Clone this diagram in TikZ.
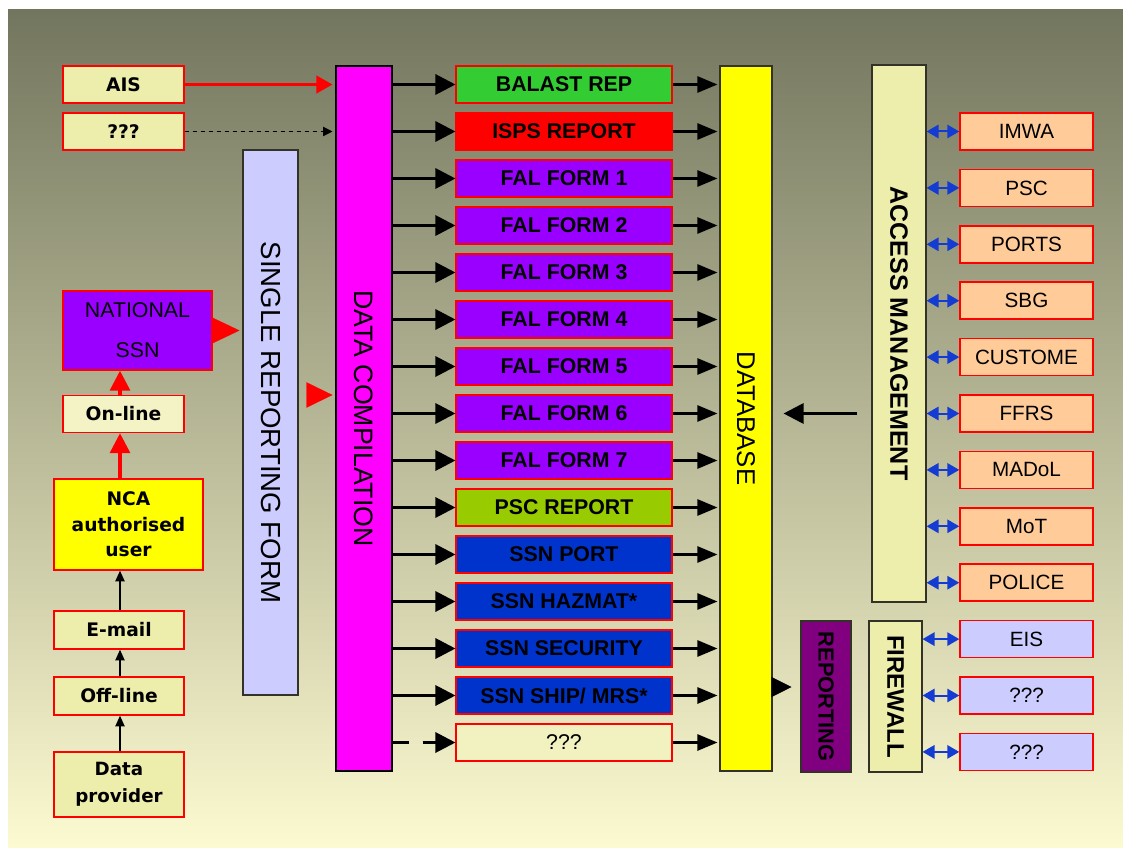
\documentclass[tikz,border=0pt]{standalone}
\usepackage{fontspec}
\setmainfont{Liberation Sans}
\newfontfamily\leftfont{DejaVu Sans}
\usetikzlibrary{arrows.meta}

\definecolor{bgtop}{RGB}{115,118,94}
\definecolor{bgmid}{RGB}{192,192,146}
\definecolor{bgbot}{RGB}{252,250,208}
\definecolor{paleyel}{RGB}{238,238,172}
\definecolor{lavend}{RGB}{204,204,255}
\definecolor{violet}{RGB}{153,0,255}
\definecolor{pinkmag}{RGB}{255,0,255}
\definecolor{dbyellow}{RGB}{255,255,0}
\definecolor{balgreen}{RGB}{51,204,51}
\definecolor{pscgreen}{RGB}{153,204,0}
\definecolor{ssnblue}{RGB}{0,51,204}
\definecolor{repurple}{RGB}{128,0,128}
\definecolor{salmon}{RGB}{255,204,153}
\definecolor{linkblue}{RGB}{20,60,210}
\definecolor{frame}{RGB}{50,50,40}

\begin{document}
\begin{tikzpicture}[x=0.75pt,y=0.75pt,yscale=-1,xscale=1,
  every node/.style={inner sep=0pt, align=center},
  srcbox/.style={draw=red, line width=1.1pt, fill=paleyel, minimum width=90.75pt, minimum height=27.75pt, font=\leftfont\bfseries\fontsize{14}{19}\selectfont},
  formbox/.style={draw=red, line width=0.8pt, minimum width=162pt, minimum height=27.75pt, font=\bfseries\fontsize{16}{18}\selectfont},
  userbox/.style={draw=red, line width=1.1pt, minimum width=99.75pt, minimum height=27.75pt, font=\fontsize{15.5}{18}\selectfont},
  bar/.style={draw=frame, line width=0.8pt},
  vtext/.style={rotate=-90, font=\fontsize{20}{22}\selectfont},
  feed/.style={line width=2.25pt, -{Triangle[length=15pt,width=15pt]}},
  store/.style={line width=1.9pt, -{Triangle[length=15pt,width=12pt]}, shorten >=1.5pt},
  link/.style={linkblue, line width=1.5pt, {Triangle[length=9pt,width=10pt]}-{Triangle[length=9pt,width=10pt]}},
  upred/.style={red, line width=2.5pt, -{Triangle[length=15pt,width=15pt]}},
  upblack/.style={line width=0.9pt, -{Triangle[length=8pt,width=7pt]}},
  redhead/.style={red, line width=0.1pt}
]

% background
\useasboundingbox (0,0) rectangle (1123,848);
\fill[top color=bgtop, middle color=bgmid, bottom color=bgbot] (8,10) rectangle (1123,848);

% left column
\node (ais) at (123.5,84.5) [srcbox] {AIS};
\node (qin) at (123.5,131.5) [srcbox] {???};
\node (nssn) at (137.5,330.5) [draw=red, line width=1.1pt, fill=violet, minimum width=111.75pt, minimum height=59.25pt, font=\fontsize{16}{30}\selectfont] {NATIONAL\\SSN};
\node (online) at (123.5,414) [srcbox, fill=paleyel!70!white] {On-line};
\node (nca) at (128.5,524.5) [srcbox, fill=dbyellow, minimum width=111.75pt, minimum height=68.25pt] {NCA\\authorised\\user};
\node (email) at (119,630) [srcbox, minimum width=97.5pt, minimum height=28.5pt] {E-mail};
\node (offline) at (119,696) [srcbox, minimum width=97.5pt, minimum height=28.5pt] {Off-line};
\node (dprov) at (119,784.5) [srcbox, minimum width=97.5pt, minimum height=48.75pt, font=\leftfont\bfseries\fontsize{13.7}{20}\selectfont] {Data\\provider};

% tall bars
\node (srf) at (270.5,422.5) [bar, fill=lavend, minimum width=41.25pt, minimum height=408.75pt] {};
\node at (srf) [vtext, font=\fontsize{20.7}{22}\selectfont] {SINGLE REPORTING FORM};
\node (dc) at (364,418.5) [bar, draw=black, fill=pinkmag, minimum width=42pt, minimum height=528.75pt] {};
\node at (dc) [vtext] {DATA COMPILATION};
\node (db) at (746,418.5) [bar, fill=dbyellow, minimum width=39pt, minimum height=528.75pt] {};
\node at (db) [vtext, font=\fontsize{19.3}{22}\selectfont] {DATABASE};
\node (am) at (899,333.5) [bar, fill=paleyel, minimum width=40.5pt, minimum height=402.75pt] {};
\node at (am) [vtext, font=\bfseries\fontsize{18.8}{22}\selectfont] {ACCESS MANAGEMENT};
\node (rep) at (826,696.5) [bar, fill=repurple, minimum width=37.5pt, minimum height=113.25pt] {};
\node at (rep) [vtext, font=\bfseries\fontsize{16.3}{18}\selectfont] {REPORTING};
\node (fw) at (895.5,696.5) [bar, fill=paleyel, minimum width=39.75pt, minimum height=113.25pt] {};
\node at (fw) [vtext, font=\bfseries\fontsize{18}{20}\selectfont] {FIREWALL};

% report forms
\node (bal) at (564,84.5) [formbox, fill=balgreen] {BALAST REP};
\node (isps) at (564,131.5) [formbox, fill=red] {ISPS REPORT};
\node (fal1) at (564,178.5) [formbox, fill=violet] {FAL FORM 1};
\node (fal2) at (564,225.5) [formbox, fill=violet] {FAL FORM 2};
\node (fal3) at (564,272.5) [formbox, fill=violet] {FAL FORM 3};
\node (fal4) at (564,319.5) [formbox, fill=violet] {FAL FORM 4};
\node (fal5) at (564,366.5) [formbox, fill=violet] {FAL FORM 5};
\node (fal6) at (564,413.5) [formbox, fill=violet] {FAL FORM 6};
\node (fal7) at (564,460.5) [formbox, fill=violet] {FAL FORM 7};
\node (pscrep) at (564,507.5) [formbox, fill=pscgreen] {PSC REPORT};
\node (ssnport) at (564,554.5) [formbox, fill=ssnblue] {SSN PORT};
\node (ssnhaz) at (564,601.5) [formbox, fill=ssnblue] {SSN HAZMAT*};
\node (ssnsec) at (564,648.5) [formbox, fill=ssnblue] {SSN SECURITY};
\node (ssnship) at (564,695.5) [formbox, fill=ssnblue] {SSN SHIP/ MRS*};
\node (qmid) at (564,742.5) [formbox, fill=paleyel!75!white, font=\fontsize{16}{18}\selectfont] {???};

% users
\node (imwa) at (1026.5,131.5) [userbox, fill=salmon] {IMWA};
\node (psc) at (1026.5,187.9) [userbox, fill=salmon] {PSC};
\node (ports) at (1026.5,244.3) [userbox, fill=salmon] {PORTS};
\node (sbg) at (1026.5,300.7) [userbox, fill=salmon] {SBG};
\node (custome) at (1026.5,357.1) [userbox, fill=salmon] {CUSTOME};
\node (ffrs) at (1026.5,413.5) [userbox, fill=salmon] {FFRS};
\node (madol) at (1026.5,469.9) [userbox, fill=salmon] {MADoL};
\node (mot) at (1026.5,526.3) [userbox, fill=salmon] {MoT};
\node (police) at (1026.5,582.7) [userbox, fill=salmon] {POLICE};
\node (eis) at (1026.5,639.1) [userbox, fill=lavend] {EIS};
\node (qout1) at (1026.5,695.5) [userbox, fill=lavend] {???};
\node (qout2) at (1026.5,751.9) [userbox, fill=lavend] {???};

% left arrows
\draw [red, line width=2.25pt, -{Triangle[length=12pt,width=13pt]}, shorten >=2.25pt] (ais.east) -- (ais.east -| dc.west);
\draw [line width=0.75pt, dash pattern=on 3.5pt off 2.5pt, -{Triangle[length=7pt,width=7pt]}, shorten >=2.25pt] (qin.east) -- (qin.east -| dc.west);
\draw [upred] (online.north -| 120,0) -- (nssn.south -| 120,0);
\draw [upred] (nca.north -| 120,0) -- (online.south -| 120,0);
\draw [upblack] (email.north -| 120,0) -- (nca.south -| 120,0);
\draw [upblack] (offline.north -| 120,0) -- (email.south -| 120,0);
\draw [upblack] (dprov.north -| 120,0) -- (offline.south -| 120,0);
\draw [redhead, -{Triangle[length=21pt,width=20pt]}, shorten >=2.25pt] (nssn.east) -- (nssn.east -| srf.west);
\coordinate (srfout) at (298,395);
\draw [redhead, -{Triangle[length=19.5pt,width=19pt]}, shorten <=6.75pt, shorten >=2.25pt] (srfout) -- (srfout -| dc.west);

% into the forms
\draw [feed] (dc.east |- bal) -- (bal.west);
\draw [feed] (dc.east |- isps) -- (isps.west);
\draw [feed] (dc.east |- fal1) -- (fal1.west);
\draw [feed] (dc.east |- fal2) -- (fal2.west);
\draw [feed] (dc.east |- fal3) -- (fal3.west);
\draw [feed] (dc.east |- fal4) -- (fal4.west);
\draw [feed] (dc.east |- fal5) -- (fal5.west);
\draw [feed] (dc.east |- fal6) -- (fal6.west);
\draw [feed] (dc.east |- fal7) -- (fal7.west);
\draw [feed] (dc.east |- pscrep) -- (pscrep.west);
\draw [feed] (dc.east |- ssnport) -- (ssnport.west);
\draw [feed] (dc.east |- ssnhaz) -- (ssnhaz.west);
\draw [feed] (dc.east |- ssnsec) -- (ssnsec.west);
\draw [feed] (dc.east |- ssnship) -- (ssnship.west);
\draw [feed, dash pattern=on 12pt off 10.5pt] (dc.east |- qmid) -- (qmid.west);

% into the database
\draw [store] (bal.east) -- (bal.east -| db.west);
\draw [store] (isps.east) -- (isps.east -| db.west);
\draw [store] (fal1.east) -- (fal1.east -| db.west);
\draw [store] (fal2.east) -- (fal2.east -| db.west);
\draw [store] (fal3.east) -- (fal3.east -| db.west);
\draw [store] (fal4.east) -- (fal4.east -| db.west);
\draw [store] (fal5.east) -- (fal5.east -| db.west);
\draw [store] (fal6.east) -- (fal6.east -| db.west);
\draw [store] (fal7.east) -- (fal7.east -| db.west);
\draw [store] (pscrep.east) -- (pscrep.east -| db.west);
\draw [store] (ssnport.east) -- (ssnport.east -| db.west);
\draw [store] (ssnhaz.east) -- (ssnhaz.east -| db.west);
\draw [store] (ssnsec.east) -- (ssnsec.east -| db.west);
\draw [store] (ssnship.east) -- (ssnship.east -| db.west);
\draw [store] (qmid.east) -- (qmid.east -| db.west);

% database side
\coordinate (dbout) at (772,687);
\draw [line width=0.1pt, -{Triangle[length=15pt,width=15pt]}, shorten >=6.75pt] (dbout) -- (dbout -| rep.west);
\draw [line width=2.25pt, -{Triangle[length=15pt,width=15pt]}, shorten <=10.5pt, shorten >=8.25pt] (am.west |- ffrs) -- (db.east |- ffrs);

% access links
\draw [link] (am.east |- imwa) -- (imwa.west);
\draw [link] (am.east |- psc) -- (psc.west);
\draw [link] (am.east |- ports) -- (ports.west);
\draw [link] (am.east |- sbg) -- (sbg.west);
\draw [link] (am.east |- custome) -- (custome.west);
\draw [link] (am.east |- ffrs) -- (ffrs.west);
\draw [link] (am.east |- madol) -- (madol.west);
\draw [link] (am.east |- mot) -- (mot.west);
\draw [link] (am.east |- police) -- (police.west);
\draw [link] (fw.east |- eis) -- (eis.west);
\draw [link] (fw.east |- qout1) -- (qout1.west);
\draw [link] (fw.east |- qout2) -- (qout2.west);

\end{tikzpicture}
\end{document}
